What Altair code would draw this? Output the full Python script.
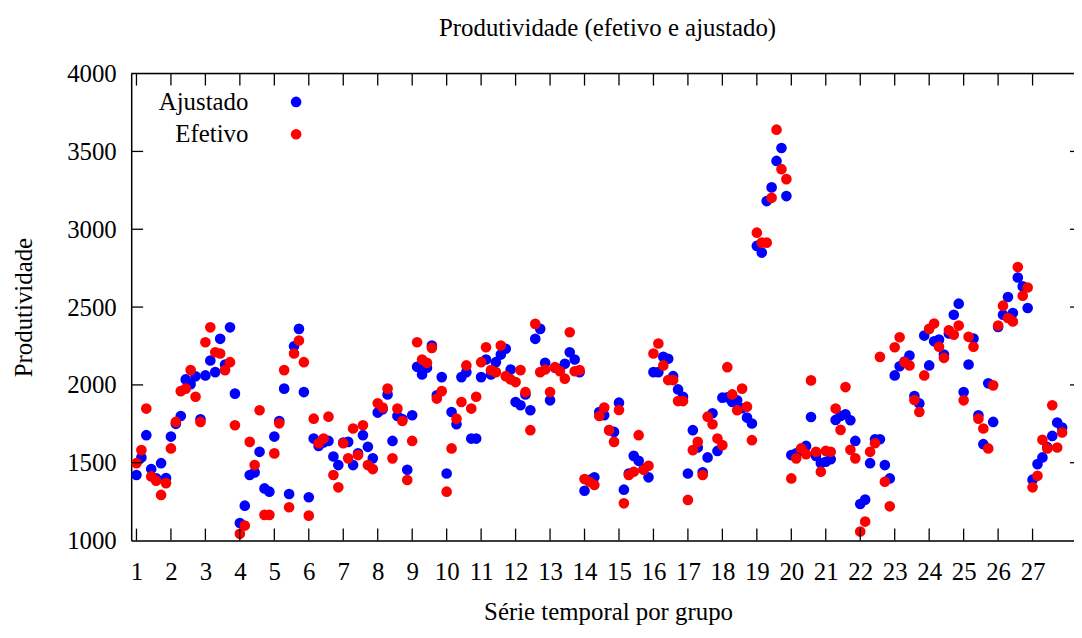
import altair as alt
import pandas as pd

# ---- data ----
groups = list(range(1, 28))
per_group = 7

ajustado = [
    [1421, 1534, 1677, 1459, 1400, 1497, 1401],
    [1668, 1750, 1800, 2035, 2005, 2055, 1779],
    [2061, 2157, 2082, 2296, 2131, 2370, 1944],
    [1113, 1224, 1421, 1438, 1570, 1335, 1314],
    [1668, 1768, 1976, 1299, 2248, 2360, 1954],
    [1278, 1655, 1608, 1630, 1640, 1540, 1485],
    [1630, 1634, 1485, 1560, 1677, 1602, 1528],
    [1822, 1843, 1939, 1640, 1800, 1780, 1455],
    [1805, 2116, 2067, 2110, 2253, 1933, 2050],
    [1431, 1826, 1747, 2050, 2082, 1655, 1655],
    [2050, 2163, 2067, 2146, 2195, 2232, 2099],
    [1890, 1869, 1939, 1837, 2296, 2360, 2142],
    [1901, 2110, 2100, 2136, 2210, 2163, 2082],
    [1320, 1390, 1406, 1826, 1805, 1709, 1698],
    [1886, 1327, 1430, 1544, 1512, 1460, 1406],
    [2082, 2082, 2180, 2168, 2056, 1971, 1924],
    [1431, 1709, 1598, 1438, 1534, 1818, 1576],
    [1918, 1920, 1890, 1901, 1850, 1790, 1752],
    [2893, 2850, 3181, 3269, 3439, 3522, 3213],
    [1549, 1560, 1580, 1608, 1794, 1544, 1497],
    [1506, 1523, 1775, 1800, 1811, 1773, 1640],
    [1235, 1263, 1497, 1651, 1651, 1485, 1399],
    [2061, 2120, 2150, 2189, 1928, 1881, 2317],
    [2125, 2280, 2291, 2195, 2330, 2451, 2522],
    [1954, 2131, 2298, 1805, 1619, 2010, 1762],
    [2372, 2451, 2565, 2462, 2690, 2633, 2494],
    [1391, 1491, 1534, 1600, 1672, 1758, 1726],
]

efetivo = [
    [1497, 1581, 1848, 1412, 1384, 1293, 1369],
    [1592, 1762, 1960, 1976, 2095, 1924, 1762],
    [2274, 2370, 2210, 2202, 2095, 2146, 1741],
    [1043, 1096, 1634, 1485, 1837, 1165, 1165],
    [1560, 1753, 2095, 1214, 2202, 2285, 2146],
    [1160, 1783, 1625, 1655, 1796, 1421, 1342],
    [1625, 1528, 1720, 1549, 1741, 1485, 1459],
    [1882, 1854, 1976, 1528, 1848, 1768, 1389],
    [1640, 2274, 2163, 2142, 2238, 1912, 1960],
    [1314, 1592, 1783, 1890, 2125, 1848, 1924],
    [2146, 2242, 2095, 2082, 2253, 2056, 2035],
    [2018, 2095, 1954, 1709, 2392, 2082, 2099],
    [1954, 2114, 2088, 2040, 2338, 2088, 2095],
    [1395, 1378, 1357, 1800, 1854, 1709, 1634],
    [1839, 1239, 1421, 1442, 1677, 1455, 1480],
    [2202, 2266, 2125, 2031, 2031, 1896, 1896],
    [1261, 1581, 1634, 1421, 1796, 1747, 1655],
    [1613, 2114, 1939, 1837, 1976, 1860, 1645],
    [2978, 2914, 2914, 3202, 3640, 3386, 3322],
    [1399, 1528, 1592, 1555, 2029, 1570, 1442],
    [1576, 1570, 1848, 1711, 1986, 1583, 1528],
    [1058, 1122, 1570, 1625, 2180, 1378, 1220],
    [2242, 2306, 2146, 2125, 1903, 1826, 2061],
    [2360, 2394, 2245, 2174, 2351, 2323, 2381],
    [1901, 2309, 2245, 1783, 1720, 1592, 1997],
    [2381, 2509, 2430, 2408, 2757, 2573, 2626],
    [1342, 1416, 1647, 1592, 1869, 1598, 1694],
]

series_names = ["Ajustado", "Efetivo"]
series_colors = ["#0000ff", "#ff0000"]
x_tick_values = groups
y_tick_values = [1000, 1500, 2000, 2500, 3000, 3500, 4000]
chart_title = "Produtividade (efetivo e ajustado)"

rows = []
for name, table in zip(series_names, [ajustado, efetivo]):
    for g, vals in zip(groups, table):
        for i, v in enumerate(vals):
            rows.append({"x": g + i / per_group, "y": v, "serie": name})
df = pd.DataFrame(rows)

# ---- layout / style ----
W, H = 949, 470
FONT = "Liberation Serif"
FS = 25
DOT = 115

xscale = alt.Scale(domain=[0.847, 28.202], nice=False, zero=False)
yscale = alt.Scale(domain=[1000, 4000], nice=False, zero=False)

xaxis = alt.Axis(
    values=x_tick_values, format="d", ticks=False, grid=False,
    domain=True, domainColor="black", domainWidth=1.5,
    labelFont=FONT, labelFontSize=FS, labelColor="black", labelPadding=19,
    labelFlush=False, labelOverlap=False,
    title="Série temporal por grupo", titleFont=FONT, titleFontSize=FS,
    titleFontWeight="normal", titleColor="black",
    titleX=480, titleY=79, titleBaseline="alphabetic", titleAlign="center",
)
yaxis = alt.Axis(
    values=y_tick_values, format="d", ticks=False, grid=False,
    domain=True, domainColor="black", domainWidth=1.5,
    labelFont=FONT, labelFontSize=FS, labelColor="black", labelPadding=15,
    labelFlush=False, labelOverlap=False,
    title="Produtividade", titleFont=FONT, titleFontSize=FS,
    titleFontWeight="normal", titleColor="black",
    titleX=-108, titleY=235, titleAngle=270, titleAlign="center",
    titleBaseline="middle",
)

X = alt.X("x:Q", scale=xscale, axis=xaxis)
Y = alt.Y("y:Q", scale=yscale, axis=yaxis)

points = alt.Chart(df).mark_circle(size=DOT, opacity=1).encode(
    x=X, y=Y,
    color=alt.Color("serie:N", scale=alt.Scale(domain=series_names, range=series_colors), legend=None),
    order=alt.Order("serie:N"),
)

xt = pd.DataFrame({"x": x_tick_values})
yt = pd.DataFrame({"y": y_tick_values[1:-1]})
TICK = 12
tick_style = dict(color="black", strokeWidth=1.3)

bottom_ticks = alt.Chart(xt).mark_rule(**tick_style).encode(x=X, y=alt.value(H), y2=alt.value(H - TICK))
top_ticks = alt.Chart(xt).mark_rule(**tick_style).encode(x=X, y=alt.value(0), y2=alt.value(TICK))
left_ticks = alt.Chart(yt).mark_rule(**tick_style).encode(y=Y, x=alt.value(0), x2=alt.value(TICK))
right_ticks = alt.Chart(yt).mark_rule(**tick_style).encode(y=Y, x=alt.value(W - 4), x2=alt.value(W))
top_border = alt.Chart(pd.DataFrame({"a": [0]})).mark_rule(color="black", strokeWidth=1.5).encode(
    x=alt.value(0), x2=alt.value(W), y=alt.value(0)
)

title_layer = alt.Chart(pd.DataFrame({"t": [chart_title]})).mark_text(
    align="center", baseline="alphabetic", font=FONT, fontSize=FS, color="black"
).encode(text="t:N", x=alt.value(W / 2 + 5), y=alt.value(-38))

legend_layers = []
for k, (name, col) in enumerate(zip(series_names, series_colors)):
    ly = 28.5 + k * 32.5
    ldf = pd.DataFrame({"serie": [name]})
    legend_layers.append(
        alt.Chart(ldf).mark_text(align="right", baseline="middle", font=FONT, fontSize=FS, color="black")
        .encode(text="serie:N", x=alt.value(118), y=alt.value(ly))
    )
    legend_layers.append(
        alt.Chart(ldf).mark_circle(size=DOT, opacity=1, color=col)
        .encode(x=alt.value(166), y=alt.value(ly))
    )

chart = alt.layer(
    points, bottom_ticks, top_ticks, left_ticks, right_ticks, top_border, title_layer, *legend_layers
).properties(
    width=W, height=H,
    autosize=alt.AutoSizeParams(type="none"),
    padding={"left": 124, "top": 64, "right": 0, "bottom": 88},
).configure_view(stroke=None).configure(background="white")

chart.save("out.html", embed_options={"renderer": "svg", "actions": False})
